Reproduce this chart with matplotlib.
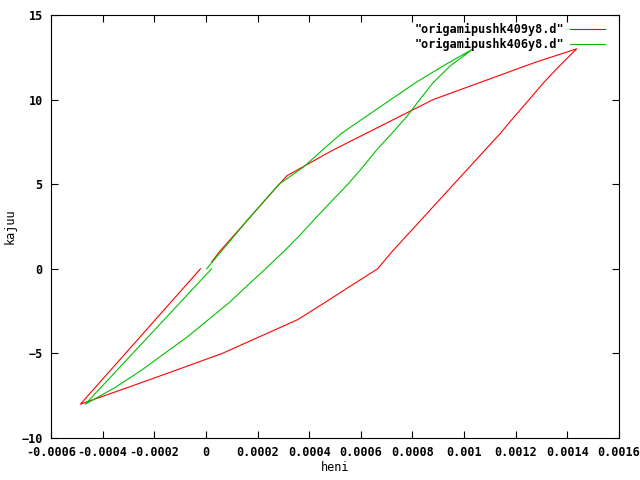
import numpy as np
import matplotlib
matplotlib.use('Agg')
from matplotlib import pyplot as plt

# origamipushk409y8.d : loading 0 -> 13, unloading 13 -> -8, reloading -8 -> 0
load409 = [0.4, 1, 2, 3, 4, 5, 5.5, 7, 10, 12.2, 13]
heni409_up = [0.000022, 0.000052, 0.00011, 0.000168, 0.000226, 0.000284, 0.000314,
              0.00049, 0.00088, 0.001275, 0.001436]
load409_down = [12, 11, 10, 9, 8, 7, 6, 5, 4, 3, 2, 1, 0, -1, -2, -3, -4, -5, -6, -7, -8]
heni409_down = [0.00137, 0.001308, 0.001252, 0.001195, 0.00114, 0.00108, 0.00102,
                0.00096, 0.00090, 0.00084, 0.00078, 0.00072, 0.000665, 0.000562,
                0.00046, 0.000356, 0.00021, 0.0000634, -0.000117, -0.0003, -0.000486]
load409_back = [0]
heni409_back = [-0.000021]

# origamipushk406y8.d
load406 = [0, 1, 2, 3, 4, 5, 6, 7, 8, 9, 10, 11, 12, 13]
heni406_up = [0.000003, 0.000058, 0.000113, 0.000168, 0.000225, 0.000283, 0.000377,
              0.00045, 0.000525, 0.00062, 0.000716, 0.000812, 0.00092, 0.001035]
load406_down = [12, 11, 10, 9, 8, 7, 6, 5, 4, 3, 2, 1, 0, -1, -2, -3, -4, -5, -6, -7, -8]
heni406_down = [0.000947, 0.00088, 0.000828, 0.000778, 0.00072, 0.00066, 0.000607,
                0.00055, 0.000487, 0.000425, 0.000365, 0.0003, 0.000231, 0.00016,
                0.00009, 0.00001, -0.00007, -0.00016, -0.00025, -0.00035, -0.000467]
load406_back = [0]
heni406_back = [0.000022]

x409 = heni409_up + heni409_down + heni409_back
y409 = load409 + load409_down + load409_back
x406 = heni406_up + heni406_down + heni406_back
y406 = load406 + load406_down + load406_back

plt.rcParams['font.family'] = 'DejaVu Sans Mono'
plt.rcParams['font.weight'] = 'bold'
plt.rcParams['font.size'] = 8.5

fig = plt.figure(figsize=(6.4, 4.8), dpi=100)
ax = fig.add_axes([51 / 640, 42 / 480, 568 / 640, 423 / 480])

ax.plot(x409, y409, color='#ff0000', lw=0.8, label='"origamipushk409y8.d"')
ax.plot(x406, y406, color='#00c000', lw=0.8, label='"origamipushk406y8.d"')

ax.set_xlim(-0.0006, 0.0016)
ax.set_ylim(-10, 15)
ax.set_xticks(np.arange(-0.0006, 0.00161, 0.0002))
ax.set_xticklabels(['-0.0006', '-0.0004', '-0.0002', '0', '0.0002', '0.0004',
                    '0.0006', '0.0008', '0.001', '0.0012', '0.0014', '0.0016'])
ax.set_yticks([-10, -5, 0, 5, 10, 15])
ax.tick_params(direction='in', length=5, width=0.8, top=True, right=True, pad=6)
for s in ax.spines.values():
    s.set_linewidth(0.8)

ax.set_xlabel('heni', labelpad=1)
ax.set_ylabel('kajuu', labelpad=3)

ax.legend(loc='upper right', bbox_to_anchor=(0.988, 1.0), frameon=False,
          markerfirst=False, handlelength=2.9, handletextpad=0.5,
          labelspacing=0.22, borderaxespad=0.45, borderpad=0.2)

plt.savefig('out.png')
